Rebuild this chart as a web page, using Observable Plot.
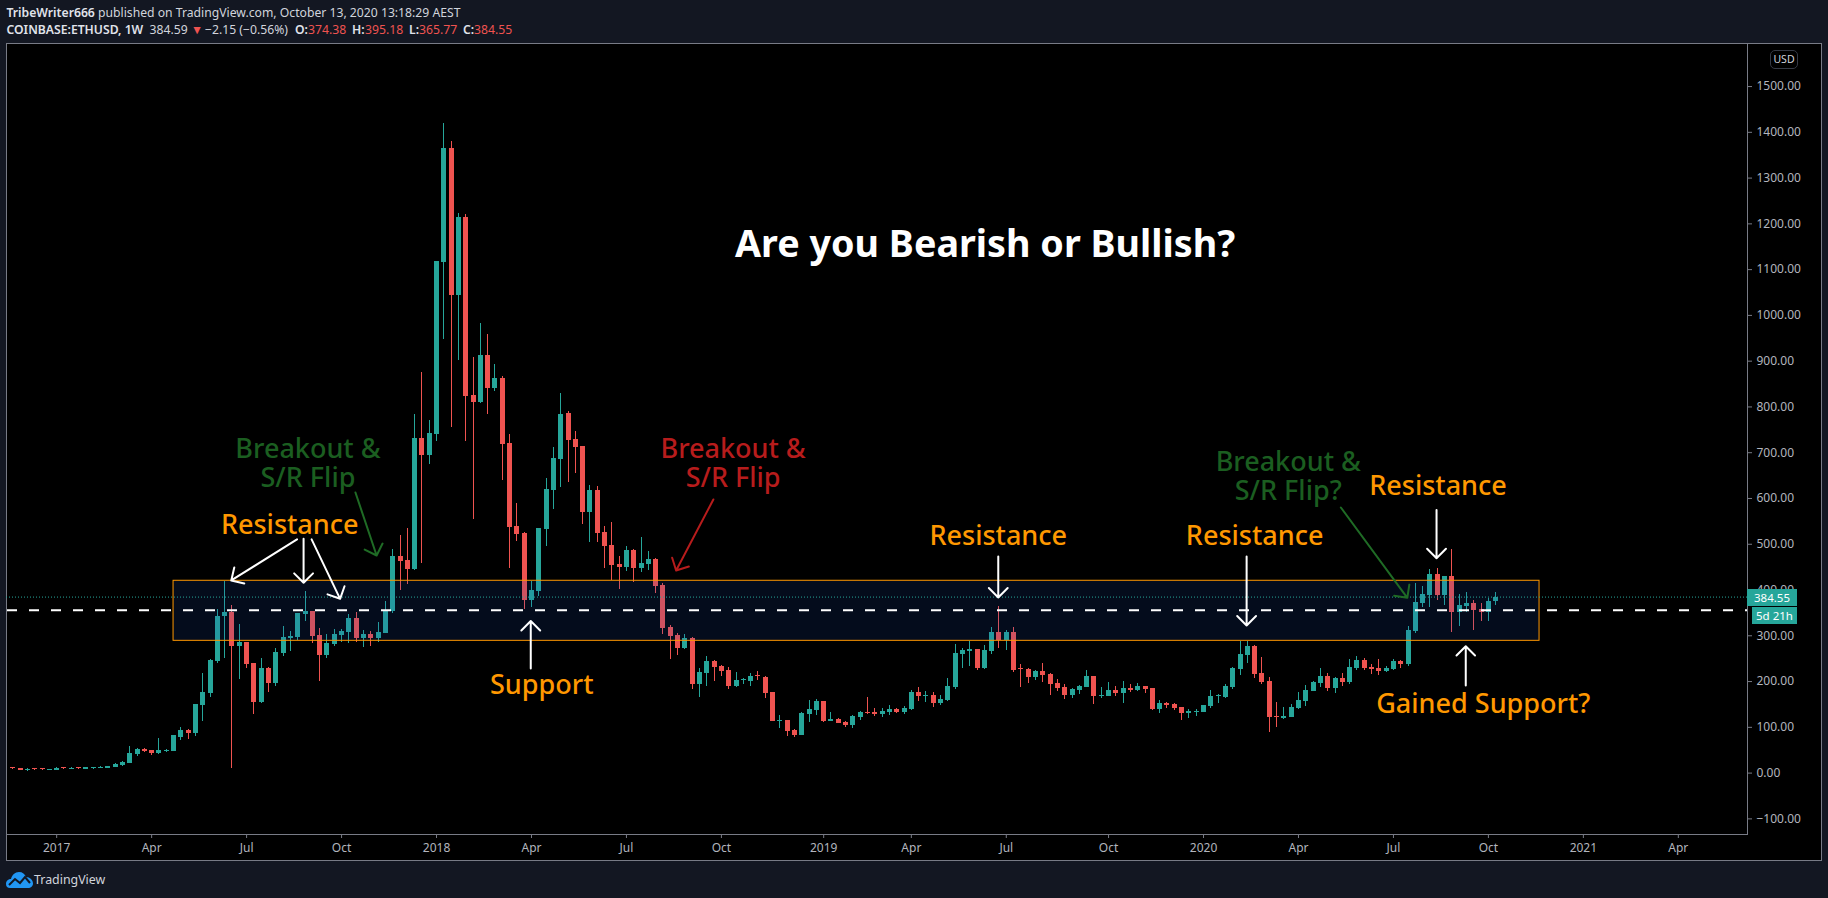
<!DOCTYPE html>
<html>
<head>
<meta charset="utf-8">
<script src="https://cdn.jsdelivr.net/npm/d3@7"></script>
<script src="https://cdn.jsdelivr.net/npm/@observablehq/plot@0.6"></script>
<style>
html,body{margin:0;padding:0;background:#131722;width:1828px;height:898px;overflow:hidden;font-family:"Noto Sans",sans-serif;color:#d1d4dc}
.abs{position:absolute;white-space:pre}
#panel{left:6px;top:43px;width:1816px;height:818px;box-sizing:border-box;background:#000;border:1px solid #787b86}
#l1{left:6.5px;top:3.5px;font-size:12.2px;line-height:18px}
#l2{left:0;top:20.5px;font-size:12.2px;line-height:18px;width:600px;height:18px}
#l2 span{position:absolute;top:0}
b{font-weight:600;color:#e0e3eb}
.r{color:#ef5350}
#usd{left:1770px;top:50px;width:28px;height:19px;box-sizing:border-box;border:1px solid #363a45;border-radius:5px;font-size:10.5px;line-height:17px;text-align:center}
.tag{background:#26a69a;color:#fff;font-size:11.5px;height:17px;line-height:17px;text-align:center}
#tag1{left:1747px;top:589px;width:50px}
#tag2{left:1752px;top:607px;width:45px}
#brand{left:34px;top:870px;font-size:12.4px;line-height:20px}
#logo{left:6px;top:871px}
#chart{position:absolute;left:0;top:0}
</style>
</head>
<body>
<div id="panel" class="abs"></div>
<div id="l1" class="abs"><b>TribeWriter666</b> published on TradingView.com, October 13, 2020 13:18:29 AEST</div>
<div id="l2" class="abs"><span style="left:6.5px"><b>COINBASE:ETHUSD, 1W</b></span><span style="left:149.5px">384.59</span><span class="r" style="left:191px">▼</span><span style="left:205px">−2.15 (−0.56%)</span><span style="left:295px"><b>O:</b></span><span class="r" style="left:308px">374.38</span><span style="left:352px"><b>H:</b></span><span class="r" style="left:365px">395.18</span><span style="left:409px"><b>L:</b></span><span class="r" style="left:419px">365.77</span><span style="left:463px"><b>C:</b></span><span class="r" style="left:474px">384.55</span></div>
<div id="chart"></div>
<div id="usd" class="abs">USD</div>
<div id="tag1" class="abs tag">384.55</div>
<div id="tag2" class="abs tag">5d 21h</div>
<svg id="logo" class="abs" width="27" height="17" viewBox="0 0 27 17"><path d="M0 13C0 9.5 2.5 8 5 8C6 4 9 1 13 1C16.5 1 19 3 20 6C24 6 27 9 27 12.5C27 15 25 17 22 17H4C1.5 17 0 15.5 0 13Z" fill="#2196f3"/><path d="M3 14L9 8L14 12L19 6L24 12" fill="none" stroke="#131722" stroke-width="2"/></svg>
<div id="brand" class="abs">TradingView</div>
<script>
// Weekly candles, first bar one week per entry from firstBar
const firstBar = Date.UTC(2016, 10, 21);
const opens = [10.1,10.1,6.4,7.9,7.9,6.4,5.7,10.1,7.9,10.1,
7.9,10.1,10.1,10.1,12.3,16.6,20.9,40.6,51.6,49.4,
42.8,47.9,47.2,77.8,93,86.5,147.7,173.9,243.8,342.2,
350.9,276.6,285.3,239.5,154.3,228.5,195.8,261.3,294.1,296.3,
346.5,353.1,300.6,256.9,280.9,300.6,307.2,337.8,294.1,302.8,
294.1,305,353.1,473.2,464.5,444.8,731,693.9,739.8,1115.6,
1364.7,1043.5,1213.9,824.9,809.7,912.4,840.3,862.1,720.1,538.8,
523.5,377,396.7,532.2,617.4,685.2,785.7,728.9,713.6,569.4,
617.4,525.7,497.3,455.8,449.2,486.3,447,455.8,466.7,409.9,
318.1,300.6,272.2,294.1,193.6,217.6,243.8,232.9,224.2,189.2,
201.6,200.1,211.8,208.9,176.1,112.7,114.9,93.1,82.1,128,
136.8,156.4,112.7,117.1,111.3,104,121.5,132.4,132.4,128,
132.4,139,132.4,139,176.1,167.5,169.5,152,158.6,187,
259.1,265.7,270,228.5,265.7,307.2,289.7,307.2,226.3,226.3,
208.9,222,215.4,195.8,187,169.5,180.5,187,211,167.4,
167.4,180.5,173.9,184.8,180.5,189.2,184.8,139,152,149.9,
143.3,130.2,132.4,132.4,145.5,167.4,165.2,187,226.3,256.9,
276.6,217.6,200.1,123.7,119.3,121.5,141.1,156.4,178.3,195.8,
211,184.8,206.7,197.9,228.5,246,230.7,228.5,222,226.3,
243.8,237.3,309.4,370.5,388,433.9,388,429.5,350.9,363.9,
370.5,357.4,350.9,374.38];
const closes = [7.9,5.7,7.9,6.4,6.4,7.9,10.1,7.9,10.1,7.9,
12.3,12.3,12.3,14.4,18.8,23.1,42.8,51.6,47.2,42.8,
49.4,50.1,82.1,93,86.5,149.9,176.1,246,342.2,350.9,
276.6,285.3,237.3,154.3,228.5,195.8,263.5,296.3,298.5,348.7,
353.1,298.5,256.9,283.2,302.8,309.4,337.8,294.1,302.8,294.1,
307.2,353.1,473.2,462.3,444.8,731,693.9,742,1117.8,1364.7,
1043.5,1213.9,822.8,809.7,912.4,840.3,862.1,718,536.6,521.3,
377,398.9,534.4,619.6,687.4,783.5,726.7,711.4,569.4,617.4,
523.5,495.1,453.6,449.2,486.3,447,457.9,466.7,407.7,315.9,
298.5,272.2,294.1,193.6,219.8,243.8,230.7,222,189.2,202.3,
203.8,211,210.3,173.9,112.7,114.9,90.9,82.1,130.2,139,
156.4,112.7,117.1,108.4,104,123.7,132.4,130.2,128,134.6,
139,132.4,141.1,176.1,167.4,169,152,160.8,189.2,261.3,
267.9,270,228.5,267.9,307.2,289.7,307.2,224.2,224.9,208.9,
222,213.2,193.6,184.8,169.5,182.6,189.2,211,167.4,168.8,
180.5,173.9,184.8,180.5,189.2,182.6,139,152,147.7,141.1,
130.2,134.6,133.8,147.7,167.4,168.8,189.2,228.5,259.1,276.6,
215.4,198,121.5,121.5,123.7,143.3,158.6,180.5,197.9,211,
184.8,206.7,197.9,230.7,246,228.5,226.3,222,228.5,243.8,
237.3,311.6,372.7,390.2,433.9,388,429.5,350.9,366.2,370.5,
355.3,350.9,374.9,384.55];
const highs = [10.1,10.1,10.8,7.9,7.9,7.9,12.3,12.3,12.3,12.3,
12.3,12.3,14.4,14.4,21,25.4,58,53.8,54.5,49.4,
75.6,51.6,82.1,99.6,96,149.9,217.6,248,357.4,419.4,
366.2,324.7,285.3,239.5,250.4,230.7,272.2,320.3,309.4,348.7,
396.8,353.1,315.9,302.8,313.7,313.7,346.5,350.9,311.6,309.4,
329,374.9,488.5,519.1,533.7,783.5,875.3,770.4,1117.8,1419.3,
1380,1222.7,1220.5,908,982.3,958.3,892.7,866.5,739.8,589,
525.7,418.6,534.4,643.7,711.4,829.4,790,746.4,713.6,628.4,
626.2,538.8,547.5,473.2,495,488.5,514.7,484.2,468.9,414.3,
322.5,305,302.8,296.3,228.5,254.8,246,235.1,230.7,219.8,
206.7,217.6,222,211,176.1,125.8,114.9,95.3,132.4,158.6,
160.8,156.4,132.4,119.3,112.7,125.8,134.6,165.2,141.1,141.1,
147.7,141.1,145.5,180.5,187,178.3,176.1,169.5,206.7,280.9,
272.2,287.5,270,278.8,318.1,364,311.6,318.1,237.3,228.5,
224.2,239.5,217.6,204.5,193.6,184.8,191.4,224.2,211,187,
198,189.2,200.1,193.6,195.8,189.2,184.8,158.6,154.2,152,
143.3,139,139,147.7,180.5,171.7,193.6,230.7,287.5,287.5,
278.8,252.6,208.9,154.2,143.3,149.9,176.1,191.4,200.1,228.5,
217.6,208.9,217.6,248.2,254.8,250.4,237.3,248.2,232.9,248.2,
246,320.3,414.3,407.7,444.8,447,429.5,488.5,390.2,394.6,
377.1,370.5,381.5,395.18];
const lows = [7.9,5.7,3.5,6.4,6.4,6.4,5.7,7.9,7.9,7.9,
7.9,7.2,10.1,10.1,12.3,14.4,20,36.3,45,38.4,
40.6,45,47,71.2,73.4,80,112.7,165,239.5,250.4,
10,204.5,228.5,128,152,176.1,189.2,254.8,265.7,289.7,
331.2,283.2,200.1,250.4,276.6,285.3,283.2,285.3,274.4,276.6,
285.3,305,348.7,399,412,442.6,457.9,674.2,724.5,947.4,
755.1,901.5,724.5,554,807.5,783.5,833.7,639.3,447,506,
357.4,361.8,385.8,495,575.9,624,634.9,654.6,543,503.8,
503.8,447,420.8,401.1,440.5,416.4,438.3,442.6,392.4,302.8,
248.2,256.9,270,182.6,165,189.2,200.1,211,182.6,187,
193.6,189.2,202.3,163,112,97.4,80,77.8,82,110.5,
125.8,110.5,112.7,108,99.6,97.4,114.9,128,123.7,121.5,
125.8,130.2,128,136.8,156.4,154.2,143.3,147.7,156.4,182.6,
228.5,232.9,224,226.3,259.1,272.2,267.9,219.8,187,195.8,
202.3,198,169.5,178.3,160.8,163,171.7,187,149.9,163,
167,167.4,152,176.1,178.3,173.9,136.8,130.2,141.1,136.8,
114.9,119.3,123.7,132,141.1,152,163,182.6,213.2,239.5,
206.7,193.6,88.7,99.6,117,121.5,139,145.5,178,187,
178.3,173.9,189.2,193.6,224.2,224.2,215.4,213.2,219.8,224.2,
228.5,232.9,305,361.8,361.8,377.1,366.2,307.2,320.3,350.9,
311.6,331.2,331.2,365.77];

// Price and time axes
const priceTicks = [-100,0,100,200,300,400,500,600,700,800,900,1000,1100,1200,1300,1400,1500];
const timeTickDates = ["2017-01-02","2017-04-03","2017-07-03","2017-10-02","2018-01-01","2018-04-02","2018-07-02","2018-10-01","2019-01-07","2019-04-01","2019-07-01","2019-10-07","2020-01-06","2020-04-06","2020-07-06","2020-10-05","2021-01-04","2021-04-05"];
const timeTickLabels = ["2017","Apr","Jul","Oct","2018","Apr","Jul","Oct","2019","Apr","Jul","Oct","2020","Apr","Jul","Oct","2021","Apr"];

// Levels
const lastPrice = 384.55;
const dashedLevel = 356;
const zoneLow = 289, zoneHigh = 420.2;
const zoneFromWeek = 22, zoneToWeek = 209;

// Annotations: week = bars since firstBar, price = USD
const orangeNotes = [
  {t:"Resistance",week:37.9,price:543},
  {t:"Support",week:72.4,price:192},
  {t:"Resistance",week:134.9,price:519},
  {t:"Resistance",week:170,price:519},
  {t:"Resistance",week:195.1,price:628},
  {t:"Gained Support?",week:201.3,price:152}
];
const greenNotes = [
  {t:"Breakout &\nS/R Flip",week:40.4,price:676.4},
  {t:"Breakout &\nS/R Flip?",week:174.6,price:648}
];
const redNotes = [{t:"Breakout &\nS/R Flip",week:98.6,price:676.4}];
const headline = [{t:"Are you Bearish or Bullish?",week:133.1,price:1154}];

const whiteArrows = [
  {w1:38.9,p1:510.6,w2:29.9,p2:421},
  {w1:39.8,p1:512,w2:39.8,p2:415.8},
  {w1:40.9,p1:510.6,w2:44.8,p2:380.8},
  {w1:70.9,p1:228.5,w2:70.9,p2:332.3},
  {w1:134.9,p1:473.2,w2:134.9,p2:383.7},
  {w1:168.9,p1:473.2,w2:168.9,p2:322.5},
  {w1:194.9,p1:574.8,w2:194.9,p2:469.5},
  {w1:198.9,p1:191.4,w2:198.9,p2:277.3}
];
const greenArrows = [
  {w1:46.9,p1:613,w2:49.8,p2:475.4},
  {w1:181.8,p1:580.3,w2:190.9,p2:383}
];
const redArrows = [{w1:95.9,p1:597.8,w2:90.8,p2:442.6}];

const WEEK = 7*864e5;
const at = w => new Date(firstBar + w*WEEK);
const candles = opens.map((o,i)=>({date:at(i),o,c:closes[i],h:highs[i],l:lows[i]}));
const up = candles.filter(d=>d.c>=d.o), down = candles.filter(d=>d.c<d.o);
const bodyEnd = d => Math.abs(d.c-d.o)<2.2 ? d.o+2.2 : d.c;
const tickLabel = new Map(timeTickDates.map((d,i)=>[+new Date(d+"T00:00:00Z"),timeTickLabels[i]]));
const UP="#26a69a",DOWN="#ef5350",ORANGE="#ff9800",FONT='"Noto Sans",sans-serif';

const candleMarks = (rows,color)=>[
  Plot.ruleX(rows,{x:"date",y1:"l",y2:"h",stroke:color,strokeWidth:1,shapeRendering:"crispEdges"}),
  Plot.ruleX(rows,{x:"date",y1:"o",y2:bodyEnd,stroke:color,strokeWidth:5,shapeRendering:"crispEdges"})
];
const note = (rows,color,size,weight)=>Plot.text(rows,{x:d=>at(d.week),y:"price",text:"t",fill:color,fontSize:size,fontWeight:weight,fontFamily:FONT,lineHeight:1.04});
const arrow = (rows,color)=>Plot.arrow(rows,{x1:d=>at(d.w1),y1:"p1",x2:d=>at(d.w2),y2:"p2",stroke:color,strokeWidth:2,headLength:10,headAngle:90,bend:0});

const chart = Plot.plot({
  width:1828,height:898,marginLeft:6,marginRight:81,marginTop:43,marginBottom:64,
  style:{background:"transparent",overflow:"visible"},
  x:{type:"utc",domain:[at(-0.87),at(237.47)],axis:null},
  y:{type:"linear",domain:[(772.6-834)/0.4577,(772.6-43)/0.4577],axis:null},
  marks:[
    ...candleMarks(up,UP),
    ...candleMarks(down,DOWN),
    Plot.rect([{}],{x1:()=>at(zoneFromWeek),x2:()=>at(zoneToWeek),y1:()=>zoneLow,y2:()=>zoneHigh,fill:"rgb(25,80,190)",fillOpacity:0.15,stroke:ORANGE,strokeWidth:1}),
    Plot.ruleY([lastPrice],{stroke:UP,strokeDasharray:"1,2",strokeWidth:1}),
    Plot.ruleY([dashedLevel],{stroke:"#fff",strokeWidth:2,strokeDasharray:"10,12",strokeDashoffset:-1}),
    arrow(whiteArrows,"#fff"),
    arrow(greenArrows,"#1f6b25"),
    arrow(redArrows,"#b71c1c"),
    note(orangeNotes,ORANGE,27,500),
    note(greenNotes,"#1b5e20",27,500),
    note(redNotes,"#b71c1c",27,500),
    note(headline,"#fff",37.7,700),
    Plot.frame({anchor:"right",stroke:"#787b86"}),
    Plot.frame({anchor:"bottom",stroke:"#787b86"}),
    Plot.axisY({anchor:"right",ticks:priceTicks,tickFormat:d=>d.toFixed(2).replace("-","−"),tickSize:4,tickPadding:5,stroke:"#787b86",fill:"#b2b5be",fontSize:12,fontFamily:FONT,label:null}),
    Plot.axisX({anchor:"bottom",ticks:[...tickLabel.keys()].map(t=>new Date(t)),tickFormat:d=>tickLabel.get(+d),tickSize:4,tickPadding:5,stroke:"#787b86",fill:"#b2b5be",fontSize:12,fontFamily:FONT,label:null})
  ]
});
document.getElementById("chart").appendChild(chart);
</script>
</body>
</html>
